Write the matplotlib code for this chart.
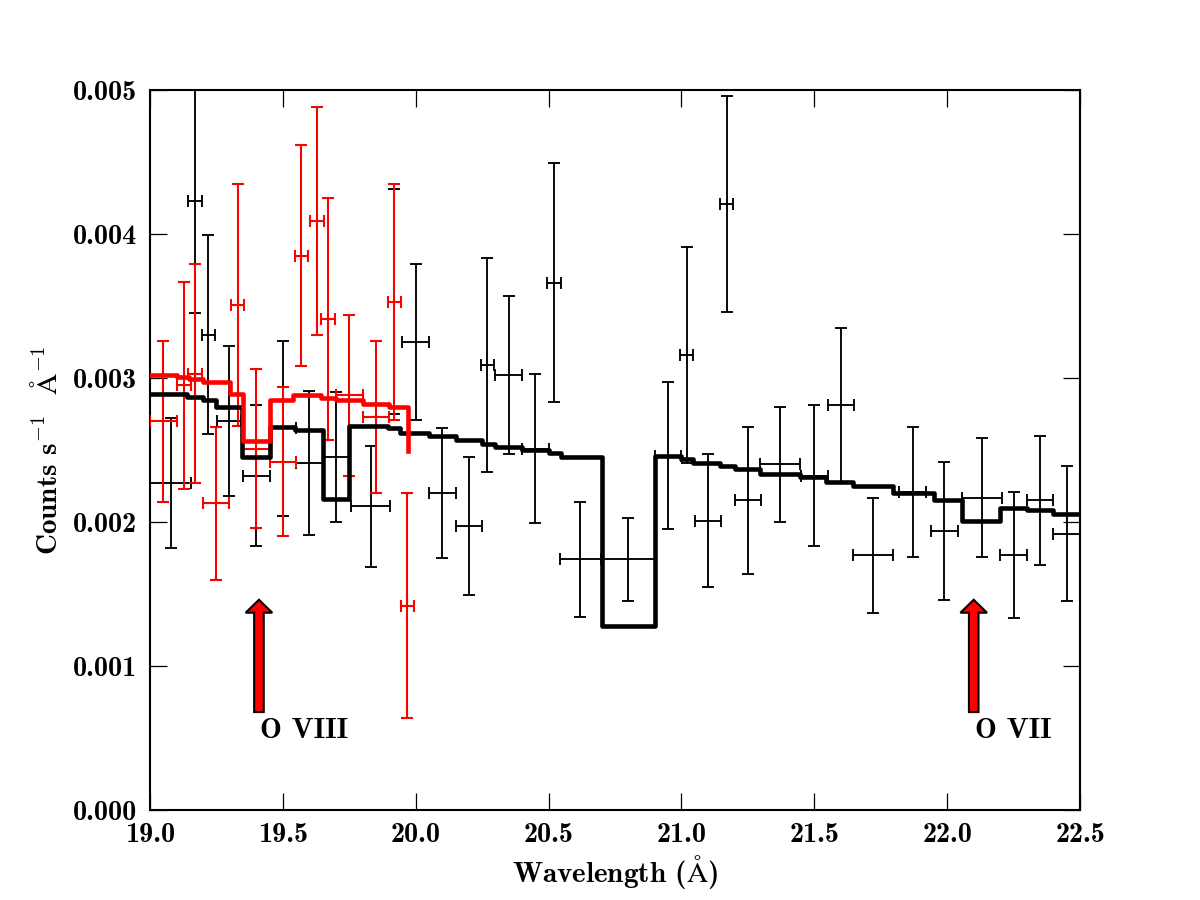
import matplotlib
matplotlib.use("Agg")
import matplotlib.pyplot as plt
from matplotlib.ticker import FormatStrFormatter, MultipleLocator

plt.rcParams['font.family'] = ['cmb10', 'DejaVu Serif']
plt.rcParams['mathtext.fontset'] = 'cm'
plt.rcParams['font.size'] = 14
plt.rcParams['axes.unicode_minus'] = False

# ---- data: black (instrument 1) ----
black_x = [19.078, 19.169, 19.22, 19.298, 19.40, 19.50, 19.60, 19.70, 19.83, 19.92,
           20.00, 20.10, 20.20, 20.27, 20.35, 20.45, 20.52, 20.62, 20.80, 20.95,
           21.02, 21.10, 21.17, 21.25, 21.37, 21.50, 21.60, 21.72, 21.87, 21.99,
           22.13, 22.25, 22.35, 22.45]
black_y = [0.00227, 0.00423, 0.00330, 0.00270, 0.00232, 0.00265, 0.00241, 0.00245, 0.00211, 0.00353,
           0.00325, 0.00220, 0.00197, 0.00309, 0.00302, 0.00251, 0.00366, 0.00174, 0.00174, 0.00246,
           0.00316, 0.00201, 0.00421, 0.00215, 0.00240, 0.00232, 0.00281, 0.00177, 0.00221, 0.00194,
           0.00217, 0.00177, 0.00215, 0.00192]
black_yerr = [0.00045, 0.00078, 0.00069, 0.00052, 0.00049, 0.00061, 0.00050, 0.00045, 0.00042, 0.00078,
              0.00054, 0.00045, 0.00048, 0.00074, 0.00055, 0.00052, 0.00083, 0.00040, 0.00029, 0.00051,
              0.00075, 0.00046, 0.00075, 0.00051, 0.00040, 0.00049, 0.00054, 0.00040, 0.00045, 0.00048,
              0.00041, 0.00044, 0.00045, 0.00047]
black_xerr = [0.078, 0.025, 0.026, 0.045, 0.05, 0.05, 0.05, 0.05, 0.073, 0.025,
              0.05, 0.05, 0.05, 0.025, 0.05, 0.05, 0.025, 0.077, 0.10, 0.05,
              0.025, 0.05, 0.025, 0.05, 0.075, 0.05, 0.05, 0.075, 0.05, 0.05,
              0.075, 0.05, 0.05, 0.05]

# ---- data: red (instrument 2) ----
red_x = [19.05, 19.128, 19.169, 19.248, 19.33, 19.40, 19.50, 19.57, 19.63, 19.67,
         19.75, 19.85, 19.92, 19.968]
red_y = [0.00270, 0.00295, 0.00303, 0.00213, 0.00351, 0.00251, 0.00242, 0.00385, 0.00409, 0.00341,
         0.00288, 0.00273, 0.00353, 0.00142]
red_yerr = [0.00056, 0.00072, 0.00076, 0.00053, 0.00084, 0.00055, 0.00052, 0.00077, 0.00079, 0.00084,
            0.00056, 0.00053, 0.00082, 0.00078]
red_xerr = [0.05, 0.025, 0.025, 0.05, 0.025, 0.05, 0.05, 0.026, 0.026, 0.025,
            0.05, 0.05, 0.026, 0.025]

# ---- model step lines ----
black_model_edges = [19.0, 19.14, 19.2, 19.25, 19.345, 19.45, 19.545, 19.65, 19.75, 19.895,
                     19.94, 20.05, 20.15, 20.25, 20.3, 20.4, 20.5, 20.545, 20.7, 20.9,
                     21.0, 21.045, 21.145, 21.2, 21.295, 21.445, 21.545, 21.645, 21.795, 21.95,
                     22.055, 22.2, 22.3, 22.4, 22.5]
black_model_vals = [0.00289, 0.00287, 0.00285, 0.00280, 0.00245, 0.00266, 0.00264, 0.00216, 0.00267, 0.00265,
                    0.00262, 0.00260, 0.00257, 0.00254, 0.00252, 0.00250, 0.00248, 0.00245, 0.00128, 0.002455,
                    0.002435, 0.00241, 0.00239, 0.00237, 0.002335, 0.00231, 0.00228, 0.00225, 0.00220, 0.00215,
                    0.00201, 0.00210, 0.002086, 0.002056, 0.002056]

red_model_edges = [19.0, 19.1, 19.145, 19.2, 19.3, 19.35, 19.45, 19.54, 19.645, 19.7, 19.8, 19.9, 19.97]
red_model_vals = [0.00302, 0.00301, 0.00299, 0.00297, 0.00289, 0.00256, 0.00285, 0.00288, 0.00286,
                  0.00285, 0.00282, 0.00280, 0.00249]

# ---- line annotations ----
line_x = [19.41, 22.10]
line_labels = ['O VIII', 'O VII']

fig = plt.figure(figsize=(8, 6), dpi=150)
ax = fig.add_axes([0.125, 0.1, 0.775, 0.8])

ax.errorbar(black_x, black_y, yerr=black_yerr, xerr=black_xerr, fmt='none',
            ecolor='black', elinewidth=0.9, capsize=3, capthick=0.9, zorder=2)
ax.errorbar(red_x, red_y, yerr=red_yerr, xerr=red_xerr, fmt='none',
            ecolor='red', elinewidth=1.0, capsize=3, capthick=1.0, zorder=3)
ax.step(black_model_edges, black_model_vals, where='post', color='black', lw=2.2, zorder=4)
ax.step(red_model_edges, red_model_vals, where='post', color='red', lw=2.2, zorder=5)

for lx, lab in zip(line_x, line_labels):
    ax.arrow(lx, 0.00068, 0, 0.00078, width=0.036, head_width=0.1, head_length=0.00009,
             length_includes_head=True, fc='red', ec='black', lw=1.0, zorder=6)
    ax.text(lx + 0.005, 0.0005, lab, ha='left', va='baseline', fontsize=14, zorder=7)

ax.set_xlim(19.0, 22.5)
ax.set_ylim(0.0, 0.005)
ax.xaxis.set_major_locator(MultipleLocator(0.5))
ax.yaxis.set_major_locator(MultipleLocator(0.001))
ax.xaxis.set_major_formatter(FormatStrFormatter('%.1f'))
ax.yaxis.set_major_formatter(FormatStrFormatter('%.3f'))
ax.tick_params(direction='in', top=True, right=True, length=8, width=0.6, labelsize=13.5, pad=6)
for sp in ax.spines.values():
    sp.set_linewidth(1.0)

ax.set_xlabel(r'Wavelength ($\mathrm{\AA}$)', fontsize=14, labelpad=2)
ax.set_ylabel(r'Counts s$^{-1}$  $\mathrm{\AA}^{-1}$', fontsize=14, labelpad=5)

fig.savefig('out.png', dpi=150, facecolor='white')
